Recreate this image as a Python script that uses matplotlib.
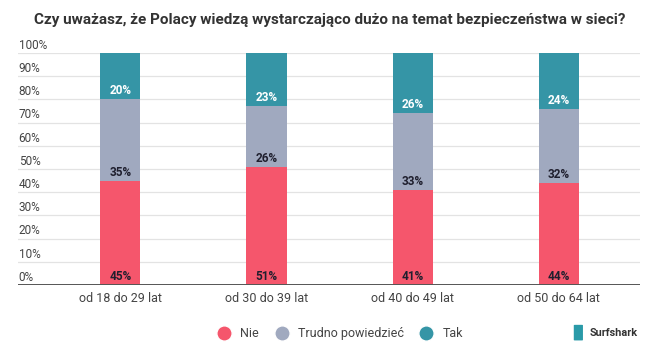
import matplotlib.pyplot as plt
import numpy as np
from matplotlib.lines import Line2D
from matplotlib.patches import FancyBboxPatch

plt.rcParams['font.family'] = ['Roboto', 'DejaVu Sans']

categories = ["od 18 do 29 lat", "od 30 do 39 lat", "od 40 do 49 lat", "od 50 do 64 lat"]
nie = [45, 51, 41, 44]
trudno = [35, 26, 33, 32]
tak = [20, 23, 26, 24]
series_names = ["Nie", "Trudno powiedzieć", "Tak"]
colors = ["#F5566C", "#A0A9BF", "#3595A6"]
label_colors = ["#1f1f2e", "#1f1f2e", "white"]
yticks = list(range(0, 101, 10))

fig = plt.figure(figsize=(6.55, 3.55), dpi=100)
ax = fig.add_axes([0.0275, 0.197, 0.9495, 0.654])

x = np.arange(len(categories))
bottom = np.zeros(len(categories))
for vals, name, col, lc in zip([nie, trudno, tak], series_names, colors, label_colors):
    ax.bar(x, vals, width=0.275, bottom=bottom, color=col, zorder=3)
    for xi, b, v in zip(x, bottom, vals):
        ax.text(xi, b + 0.8, f"{v}%", ha="center", va="bottom", fontsize=8.5,
                fontweight="bold", color=lc, zorder=4)
    bottom += np.array(vals)

ax.set_xlim(-0.70, 3.555)
ax.set_ylim(0, 100)
for yv in yticks[1:]:
    ax.axhline(yv, color="#e3e3e3", lw=0.9, zorder=1)
ax.axhline(0, color="#555555", lw=1.4, zorder=5)
for yv in yticks:
    ax.text(-0.695, yv + 0.5, f"{yv}%", ha="left", va="bottom", fontsize=8.5, color="#444444")

ax.set_yticks([])
ax.set_xticks(x)
ax.set_xticklabels(categories, fontsize=9, color="#444444")
ax.tick_params(axis="x", length=0, pad=5)
for s in ax.spines.values():
    s.set_visible(False)

fig.text(0.503, 0.945, "Czy uważasz, że Polacy wiedzą wystarczająco dużo na temat bezpieczeństwa w sieci?",
         ha="center", va="center", fontsize=11, fontweight="bold", color="#333333")

handles = [Line2D([0], [0], marker="o", color="w", markerfacecolor=c, markersize=11, lw=0)
           for c in colors]
fig.legend(handles, series_names, loc="center", bbox_to_anchor=(0.515, 0.06), ncol=3,
           frameon=False, fontsize=9, handletextpad=0.3, columnspacing=0.8,
           labelcolor="#444444")

# Surfshark logo
fig.patches.append(FancyBboxPatch((0.878, 0.042), 0.01, 0.042, boxstyle="round,pad=0.002",
                                  transform=fig.transFigure, facecolor="#2a9aa8",
                                  edgecolor="none", mutation_aspect=0.5))
fig.text(0.973, 0.063, "Surfshark", ha="right", va="center", fontsize=7.8,
         fontweight="bold", color="#333333")

fig.savefig("out.png", dpi=100)
